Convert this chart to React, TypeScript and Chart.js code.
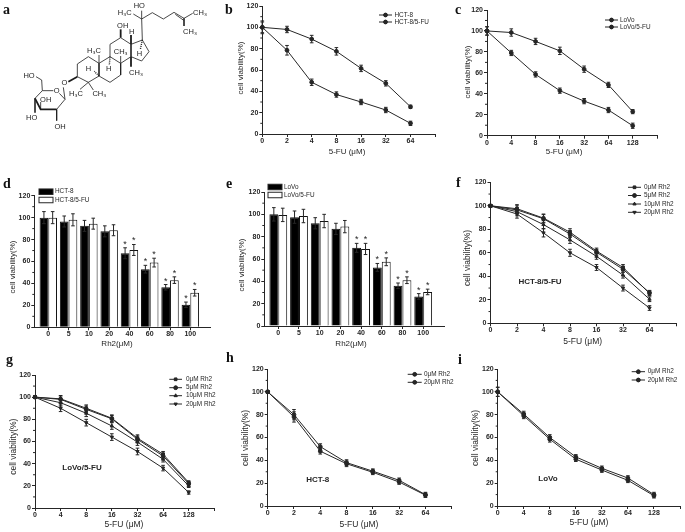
import React, { useEffect, useRef } from "react";
import { Chart, registerables } from "chart.js";
import { drawPoint } from "chart.js/helpers";

Chart.register(...registerables);

const W = 685;
const H = 532;
const FONT = "'Liberation Sans', Arial, sans-serif";
const INK = "#262626";
const Y_AXIS_W = 24;
const X_AXIS_H = 16;

// ---- data ----
const dose2 = ["0", "2", "4", "8", "16", "32", "64", ""];
const dose4 = ["0", "4", "8", "16", "32", "64", "128", ""];
const rh2Doses = ["0", "5", "10", "20", "40", "60", "80", "100"];

const bHct8 = [100, 78.5, 48.5, 37, 30, 22.5, 10];
const bHct85fu = [100, 98, 89, 77.5, 61.5, 47.5, 25.5];
const bHct8Err = [6, 4.5, 3, 2.5, 2.5, 2.5, 2];
const bHct85fuErr = [5, 3, 3.5, 3.5, 3, 2.5, 1.5];

const cLovo = [100, 79, 58.5, 43, 33, 24.5, 9.5];
const cLovo5fu = [100, 98.5, 90, 81, 63.5, 48.5, 23];
const cLovoErr = [4, 2.5, 2.5, 2.5, 2.5, 2.5, 2.5];
const cLovo5fuErr = [4, 3.5, 3, 3.5, 3, 2.5, 2];

const dHct8 = [100, 96.5, 92.5, 87.5, 67.5, 53, 36.5, 20.5];
const dHct85fu = [100, 98, 94.5, 88.5, 70.5, 59, 43, 31.5];
const dHct8Err = [5.5, 5, 5, 5, 5, 3.5, 2.5, 2.5];
const dHct85fuErr = [5.5, 5.5, 5, 5, 5, 4, 3, 3];

const eLovo = [100, 97.5, 92, 87, 70, 52.5, 36, 26.5];
const eLovo5fu = [99.5, 98.5, 94, 89, 69, 57.5, 41, 30.5];
const eLovoErr = [6, 5.5, 5, 5, 4, 3.5, 2.5, 2.5];
const eLovo5fuErr = [6, 6, 6, 5.5, 5, 3.5, 3, 2.5];

const starFlags = [false, false, false, false, true, true, true, true];

const f0 = [100, 97.5, 89.5, 77.5, 61.5, 47.5, 25.5];
const f5 = [100, 96.5, 89, 76, 60.5, 46, 26];
const f10 = [100, 95, 84, 71, 57, 41, 20.5];
const f20 = [100, 93, 77, 60, 47.5, 30, 13];
const fErr = [1, 3.5, 3.5, 3, 2.5, 2.5, 2];

const g0 = [100, 98.5, 90, 81, 63, 48.5, 23];
const g5 = [100, 98, 89, 80.5, 62, 47, 22];
const g10 = [100, 95, 85.5, 74, 59.5, 44, 20];
const g20 = [100, 90, 77, 64, 51, 36, 14];
const gErr = [1, 3, 3, 3, 3, 2.5, 1.5];

const h0 = [100, 80, 52, 38, 30.5, 22.5, 10];
const h20 = [100, 78, 48, 37, 29.5, 21, 9.5];
const hErr = [1, 4.5, 2.5, 2.5, 2, 2, 2];

const i0 = [100, 80.5, 60, 43, 33, 24.5, 10];
const i20 = [100, 79, 58.5, 41, 31.5, 22.5, 9];
const iErr = [4, 2.5, 2.5, 2, 2, 2, 2];

const rh2Legend4 = ["0μM Rh2", "5μM Rh2", "10μM Rh2", "20μM Rh2"];
const rh2Legend2 = ["0μM Rh2", "20μM Rh2"];
const styles4 = ["rect", "circle", "triangle", "triangle"];
const rotations4 = [0, 0, 0, 180];

// ---- molecule (panel a) drawn through a scatter chart ----
const ringBonds = [
  [[232, 192], [265, 170], [297, 190], [297, 228], [265, 247], [232, 230], [232, 192]],
  [[297, 190], [330, 170], [362, 190], [362, 225], [330, 247], [297, 228]],
  [[330, 170], [330, 133], [362, 113], [393, 133], [393, 170], [362, 190]],
  [[393, 133], [427, 120], [447, 155], [425, 183], [393, 170]],
  [[427, 120], [425, 57]],
  [[425, 57], [400, 42]],
  [[425, 57], [425, 32]],
  [[425, 57], [457, 38], [490, 57], [522, 37], [552, 55], [578, 40]],
  [[526, 43], [551, 61]],
  [[552, 55], [552, 78]],
  [[297, 190], [297, 165]],
  [[362, 190], [362, 168]],
  [[265, 247], [240, 268]],
  [[265, 247], [280, 270]],
  [[190, 262], [195, 298]],
  [[195, 298], [178, 280]],
  [[160, 272], [127, 272], [105, 295]],
  [[170, 328], [195, 298]],
  [[127, 272], [125, 240], [108, 230]],
  [[122, 328], [122, 306]],
  [[105, 295], [105, 338]],
  [[170, 328], [170, 362]],
];
const boldBonds = [
  [[105, 295], [122, 328], [170, 328]],
  [[232, 230], [205, 245]],
  [[362, 113], [362, 88]],
  [[393, 133], [393, 105]],
  [[393, 170], [393, 200]],
];
const hashBonds = [
  [[427, 120], [421, 148]],
  [[330, 170], [328, 195]],
  [[297, 228], [283, 214]],
];
const atomLabels: [string, number, number][] = [
  ["H₃C", 374, 40], ["HO", 418, 18], ["CH₃", 600, 38], ["CH₃", 570, 95],
  ["OH", 368, 78], ["H", 395, 95], ["H", 418, 162], ["CH₃", 408, 218],
  ["CH₃", 362, 155], ["H₃C", 282, 152], ["H", 326, 208], ["H", 265, 208],
  ["H₃C", 228, 283], ["CH₃", 298, 283], ["O", 193, 250], ["O", 170, 273],
  ["HO", 87, 228], ["OH", 137, 300], ["HO", 95, 353], ["OH", 180, 381],
];

// ---- text placed in page pixels ----
const panelLetters: [string, number, number][] = [
  ["a", 3, 10], ["b", 225, 10], ["c", 455, 10], ["d", 3, 184], ["e", 226, 184],
  ["f", 456, 183], ["g", 6, 360], ["h", 226, 358], ["i", 458, 360],
];

type Box = { left: number; right: number; top: number; bottom: number };
type Panel = {
  box: Box;
  labels: string[];
  series: number[][];
  errs: number[][];
  names: string[];
  pointStyles?: string[];
  rotations?: number[];
  xTitle: string;
  xTitlePos: [number, number];
  yTitlePos: [number, number];
  titleSize?: number;
  legendX: [number, number, number];
  legendY: number[];
  note?: [string, number, number];
};

const linePanels: Panel[] = [
  {
    box: { left: 262.3, right: 435.2, top: 6, bottom: 134 },
    labels: dose2, series: [bHct8, bHct85fu], errs: [bHct8Err, bHct85fuErr],
    names: ["HCT-8", "HCT-8/5-FU"], xTitle: "5-FU (μM)", xTitlePos: [347, 152], yTitlePos: [241, 68],
    legendX: [379, 392, 394.5], legendY: [15, 22],
  },
  {
    box: { left: 487, right: 657, top: 10, bottom: 135.7 },
    labels: dose4, series: [cLovo, cLovo5fu], errs: [cLovoErr, cLovo5fuErr],
    names: ["LoVo", "LoVo/5-FU"], xTitle: "5-FU (μM)", xTitlePos: [564, 152], yTitlePos: [468, 72],
    legendX: [605, 618, 620], legendY: [20, 27],
  },
  {
    box: { left: 490.5, right: 676, top: 182.3, bottom: 323.3 },
    labels: dose2, series: [f0, f5, f10, f20], errs: [fErr, fErr, fErr, fErr],
    names: rh2Legend4, pointStyles: styles4, rotations: rotations4,
    xTitle: "5-FU (μM)", xTitlePos: [582.7, 342], yTitlePos: [468, 258], titleSize: 8.5,
    legendX: [628, 641, 644], legendY: [187.3, 195.5, 204, 212.3],
    note: ["HCT-8/5-FU", 540, 282],
  },
  {
    box: { left: 35, right: 214.3, top: 375, bottom: 508 },
    labels: dose4, series: [g0, g5, g10, g20], errs: [gErr, gErr, gErr, gErr],
    names: rh2Legend4, pointStyles: styles4, rotations: rotations4,
    xTitle: "5-FU (μM)", xTitlePos: [124, 525], yTitlePos: [14, 446.7], titleSize: 8.5,
    legendX: [169.3, 182, 186], legendY: [379.3, 387.7, 395.7, 404],
    note: ["LoVo/5-FU", 82, 468],
  },
  {
    box: { left: 267.7, right: 451.7, top: 369, bottom: 506 },
    labels: dose2, series: [h0, h20], errs: [hErr, hErr],
    names: rh2Legend2, xTitle: "5-FU (μM)", xTitlePos: [359, 525], yTitlePos: [245.7, 438], titleSize: 8.5,
    legendX: [407.7, 421.7, 424], legendY: [374.3, 382.3],
    note: ["HCT-8", 317.7, 480],
  },
  {
    box: { left: 497.7, right: 681.7, top: 369, bottom: 506 },
    labels: dose4, series: [i0, i20], errs: [iErr, iErr],
    names: rh2Legend2, xTitle: "5-FU (μM)", xTitlePos: [589, 523], yTitlePos: [475.7, 438], titleSize: 8.5,
    legendX: [631.7, 645, 647.7], legendY: [371.7, 380],
    note: ["LoVo", 548, 479],
  },
];

type BarPanel = Panel & { xMin: number; xMax: number; swatch: { x: [number, number]; h: number } };

const barPanels: BarPanel[] = [
  {
    box: { left: 34.3, right: 210, top: 195.7, bottom: 327.3 },
    xMin: -0.69, xMax: 7.97,
    labels: rh2Doses, series: [dHct8, dHct85fu], errs: [dHct8Err, dHct85fuErr],
    names: ["HCT-8", "HCT-8/5-FU"], xTitle: "Rh2(μM)", xTitlePos: [117, 344], yTitlePos: [13, 267],
    legendX: [39, 53, 55], legendY: [191.7, 200], swatch: { x: [39, 53], h: 5.5 },
  },
  {
    box: { left: 264.3, right: 444.3, top: 192, bottom: 326 },
    xMin: -0.676, xMax: 8.02,
    labels: rh2Doses, series: [eLovo, eLovo5fu], errs: [eLovoErr, eLovo5fuErr],
    names: ["LoVo", "LoVo/5-FU"], xTitle: "Rh2(μM)", xTitlePos: [351, 344], yTitlePos: [242, 265],
    legendX: [268, 282, 284], legendY: [187, 195], swatch: { x: [268, 282], h: 5.5 },
  },
];

// ---- plugins ----
const decorPlugin = {
  id: "decor",
  afterDatasetsDraw(chart: any) {
    const { ctx } = chart;
    const cfg = chart.options.plugins.decor as Panel & { swatch?: BarPanel["swatch"] };
    if (!cfg || !cfg.box) return;
    const yS = chart.scales.y;
    ctx.save();
    ctx.strokeStyle = INK;
    ctx.fillStyle = INK;
    ctx.lineWidth = 1;

    // minor y ticks
    const major = yS.ticks.map((t: any) => t.value);
    for (let k = 0; k + 1 < major.length; k++) {
      const py = yS.getPixelForValue((major[k] + major[k + 1]) / 2);
      ctx.beginPath();
      ctx.moveTo(cfg.box.left - 2, py);
      ctx.lineTo(cfg.box.left, py);
      ctx.stroke();
    }

    // error bars and stars
    chart.data.datasets.forEach((ds: any, di: number) => {
      const meta = chart.getDatasetMeta(di);
      meta.data.forEach((el: any, i: number) => {
        const raw = cfg.series[di][i];
        const err = ds.errors[i];
        const top = yS.getPixelForValue(raw + err);
        const bot = yS.getPixelForValue(raw - err);
        const cap = 1.8;
        ctx.beginPath();
        ctx.moveTo(el.x, top);
        ctx.lineTo(el.x, bot);
        ctx.moveTo(el.x - cap, top);
        ctx.lineTo(el.x + cap, top);
        ctx.moveTo(el.x - cap, bot);
        ctx.lineTo(el.x + cap, bot);
        ctx.stroke();
        if (ds.stars && ds.stars[i]) {
          ctx.font = `9px ${FONT}`;
          ctx.textAlign = "center";
          ctx.textBaseline = "middle";
          ctx.fillText("*", el.x, top - 3.5);
        }
      });
    });

    // legend
    cfg.names.forEach((name, i) => {
      const y = cfg.legendY[i];
      if (cfg.swatch) {
        ctx.fillStyle = i === 0 ? "#000" : "#fff";
        ctx.fillRect(cfg.swatch.x[0], y - cfg.swatch.h / 2, cfg.swatch.x[1] - cfg.swatch.x[0], cfg.swatch.h);
        ctx.strokeRect(cfg.swatch.x[0], y - cfg.swatch.h / 2, cfg.swatch.x[1] - cfg.swatch.x[0], cfg.swatch.h);
        ctx.fillStyle = INK;
      } else {
        const [x0, x1] = cfg.legendX;
        ctx.beginPath();
        ctx.moveTo(x0, y);
        ctx.lineTo(x1, y);
        ctx.stroke();
        const style = cfg.pointStyles ? cfg.pointStyles[i] : "circle";
        const rotation = cfg.rotations ? cfg.rotations[i] : 0;
        drawPoint(ctx, { pointStyle: style, radius: 1.9, rotation, borderWidth: 1 } as any, (x0 + x1) / 2, y);
        ctx.fill();
      }
      ctx.font = `6.4px ${FONT}`;
      ctx.textAlign = "left";
      ctx.textBaseline = "middle";
      ctx.fillText(name, cfg.legendX[2], y);
    });

    // titles
    const size = cfg.titleSize ?? 8;
    ctx.font = `${size}px ${FONT}`;
    ctx.textAlign = "center";
    ctx.textBaseline = "middle";
    ctx.fillText(cfg.xTitle, cfg.xTitlePos[0], cfg.xTitlePos[1]);
    ctx.save();
    ctx.translate(cfg.yTitlePos[0], cfg.yTitlePos[1]);
    ctx.rotate(-Math.PI / 2);
    ctx.fillText("cell viability(%)", 0, 0);
    ctx.restore();

    if (cfg.note) {
      ctx.font = `bold 8px ${FONT}`;
      ctx.fillText(cfg.note[0], cfg.note[1], cfg.note[2]);
    }
    ctx.restore();
  },
};

const atomPlugin = {
  id: "atoms",
  afterDatasetsDraw(chart: any) {
    if (!chart.options.plugins.atoms?.on) return;
    const { ctx, scales } = chart;
    ctx.save();
    ctx.fillStyle = "#1c1c1c";
    ctx.font = `7.5px ${FONT}`;
    ctx.textAlign = "center";
    ctx.textBaseline = "middle";
    atomLabels.forEach(([t, x, y]) => {
      ctx.fillText(t, scales.x.getPixelForValue(x), scales.y.getPixelForValue(y));
    });
    ctx.font = `bold 14px 'Liberation Serif', serif`;
    ctx.textAlign = "left";
    ctx.fillStyle = "#111";
    panelLetters.forEach(([t, x, y]) => {
      ctx.fillText(t, scales.x.getPixelForValue(x * 3), scales.y.getPixelForValue(y * 3));
    });
    ctx.restore();
  },
};

const boxPadding = (b: Box) => ({
  left: b.left - Y_AXIS_W,
  right: W - b.right,
  top: b.top,
  bottom: H - b.bottom - X_AXIS_H,
});

const tickFont = { family: FONT, size: 7, weight: "bold" as const };

const yAxis = () => ({
  min: 0,
  max: 120,
  ticks: { stepSize: 20, color: INK, font: tickFont, padding: 1 },
  grid: { drawOnChartArea: false, drawTicks: true, tickLength: 3, color: INK },
  border: { color: INK, width: 1 },
  afterFit(s: any) { s.width = Y_AXIS_W; },
});

function lineConfig(p: Panel): any {
  return {
    type: "line",
    data: {
      labels: p.labels,
      datasets: p.series.map((s, i) => ({
        label: p.names[i],
        data: s,
        errors: p.errs[i],
        borderColor: INK,
        backgroundColor: INK,
        borderWidth: 1,
        pointRadius: 1.9,
        pointBorderWidth: 1,
        pointStyle: p.pointStyles ? p.pointStyles[i] : "circle",
        pointRotation: p.rotations ? p.rotations[i] : 0,
        tension: 0,
      })),
    },
    options: {
      responsive: false,
      animation: false,
      layout: { padding: boxPadding(p.box) },
      plugins: { legend: { display: false }, tooltip: { enabled: false }, decor: p },
      scales: {
        x: {
          type: "category",
          offset: false,
          ticks: { color: INK, font: tickFont, padding: 0, maxRotation: 0, autoSkip: false },
          grid: { drawOnChartArea: false, drawTicks: true, tickLength: 3, color: INK },
          border: { color: INK, width: 1 },
          afterFit(s: any) { s.height = X_AXIS_H; },
        },
        y: yAxis(),
      },
    },
    plugins: [decorPlugin],
  };
}

function barConfig(p: BarPanel): any {
  return {
    type: "bar",
    data: {
      datasets: p.series.map((s, i) => ({
        label: p.names[i],
        data: s.map((v, k) => ({ x: k, y: v })),
        errors: p.errs[i],
        stars: starFlags,
        backgroundColor: i === 0 ? "#000" : "#fff",
        borderColor: "#111",
        borderWidth: 1,
        categoryPercentage: 0.86,
        barPercentage: 1,
      })),
    },
    options: {
      responsive: false,
      animation: false,
      layout: { padding: boxPadding(p.box) },
      plugins: { legend: { display: false }, tooltip: { enabled: false }, decor: p },
      scales: {
        x: {
          type: "linear",
          min: p.xMin,
          max: p.xMax,
          offset: false,
          afterBuildTicks(s: any) { s.ticks = p.labels.map((_, i) => ({ value: i })); },
          ticks: {
            color: INK, font: tickFont, padding: 0, maxRotation: 0, autoSkip: false,
            callback: (_v: any, i: number) => p.labels[i],
          },
          grid: { offset: false, drawOnChartArea: false, drawTicks: true, tickLength: 3, color: INK },
          border: { color: INK, width: 1 },
          afterFit(s: any) { s.height = X_AXIS_H; },
        },
        y: yAxis(),
      },
    },
    plugins: [decorPlugin],
  };
}

function moleculeConfig(): any {
  const toPts = (path: number[][]) => path.map(([x, y]) => ({ x, y }));
  const make = (path: number[][], width: number, dash: number[]) => ({
    data: toPts(path),
    showLine: true,
    borderColor: "#1c1c1c",
    borderWidth: width,
    borderDash: dash,
    pointRadius: 0,
    tension: 0,
  });
  return {
    type: "scatter",
    data: {
      datasets: [
        ...ringBonds.map((p) => make(p, 0.8, [])),
        ...boldBonds.map((p) => make(p, 1.8, [])),
        ...hashBonds.map((p) => make(p, 1.4, [1, 1])),
      ],
    },
    options: {
      responsive: false,
      animation: false,
      layout: { padding: 0 },
      plugins: { legend: { display: false }, tooltip: { enabled: false }, atoms: { on: true } },
      scales: {
        x: { type: "linear", display: false, min: 0, max: W * 3 },
        y: { type: "linear", display: false, min: 0, max: H * 3, reverse: true },
      },
    },
    plugins: [atomPlugin],
  };
}

export default function App() {
  const refs = useRef<(HTMLCanvasElement | null)[]>([]);
  const total = linePanels.length + barPanels.length + 1;

  useEffect(() => {
    const configs = [moleculeConfig(), ...linePanels.map(lineConfig), ...barPanels.map(barConfig)];
    const charts = configs.map((c, i) => new Chart(refs.current[i] as HTMLCanvasElement, c));
    return () => charts.forEach((c) => c.destroy());
  }, []);

  return (
    <div style={{ position: "absolute", left: 0, top: 0, width: W, height: H, background: "#fff", filter: "blur(0.6px)", overflow: "hidden" }}>
      {Array.from({ length: total }).map((_, i) => (
        <canvas
          key={i}
          ref={(el) => { refs.current[i] = el; }}
          width={W}
          height={H}
          style={{ position: "absolute", left: 0, top: 0, width: W, height: H }}
        />
      ))}
    </div>
  );
}
